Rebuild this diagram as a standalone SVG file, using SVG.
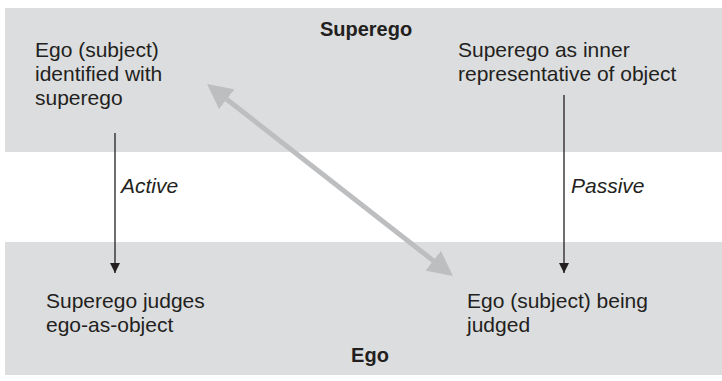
<svg xmlns="http://www.w3.org/2000/svg" width="722" height="381" viewBox="0 0 722 381">
  <style>
    .band { fill: #dcdddf; }
    .t { font-family: "Liberation Sans", Arial, sans-serif; font-size: 21px; fill: #231f20; }
    .b { font-weight: bold; text-anchor: middle; font-size: 20px; }
    .i { font-style: italic; }
    .flow { stroke: #231f20; stroke-width: 1.3; fill: none; }
    .link { stroke: #bdbec0; stroke-width: 5; fill: none; }
  </style>
  <defs>
    <marker id="ah" viewBox="0 0 10 10" refX="10" refY="5" markerWidth="11" markerHeight="10" markerUnits="userSpaceOnUse" orient="auto">
      <path d="M0,0 L10,5 L0,10 Z" fill="#231f20"/>
    </marker>
    <marker id="gh" viewBox="0 0 10 10" refX="8" refY="5" markerWidth="5" markerHeight="5" orient="auto-start-reverse">
      <path d="M0,0 L10,5 L0,10 Z" fill="#bdbec0"/>
    </marker>
  </defs>

  <!-- Superego band -->
  <g id="superego-band">
    <rect class="band" x="5" y="8" width="717" height="144"/>
    <text class="t b" x="366" y="36">Superego</text>
  </g>
  <!-- Ego band -->
  <g id="ego-band">
    <rect class="band" x="5" y="242" width="717" height="133"/>
    <text class="t b" x="370" y="362">Ego</text>
  </g>

  <g id="ego-identified">
    <text class="t" x="35" y="57">Ego (subject)</text>
    <text class="t" x="35" y="81">identified with</text>
    <text class="t" x="35" y="105">superego</text>
  </g>
  <g id="superego-inner">
    <text class="t" x="458" y="57">Superego as inner</text>
    <text class="t" x="458" y="81">representative of object</text>
  </g>
  <g id="superego-judges">
    <text class="t" x="46" y="308">Superego judges</text>
    <text class="t" x="46" y="332">ego-as-object</text>
  </g>
  <g id="ego-judged">
    <text class="t" x="467" y="308">Ego (subject) being</text>
    <text class="t" x="467" y="332">judged</text>
  </g>

  <g id="connectors">
    <line class="link" x1="211" y1="87" x2="449" y2="273" marker-start="url(#gh)" marker-end="url(#gh)"/>
    <line class="flow" x1="115" y1="133" x2="115" y2="273" marker-end="url(#ah)"/>
    <line class="flow" x1="564" y1="95" x2="564" y2="273" marker-end="url(#ah)"/>
    <text class="t i" x="121" y="193">Active</text>
    <text class="t i" x="571" y="193">Passive</text>
  </g>
</svg>
